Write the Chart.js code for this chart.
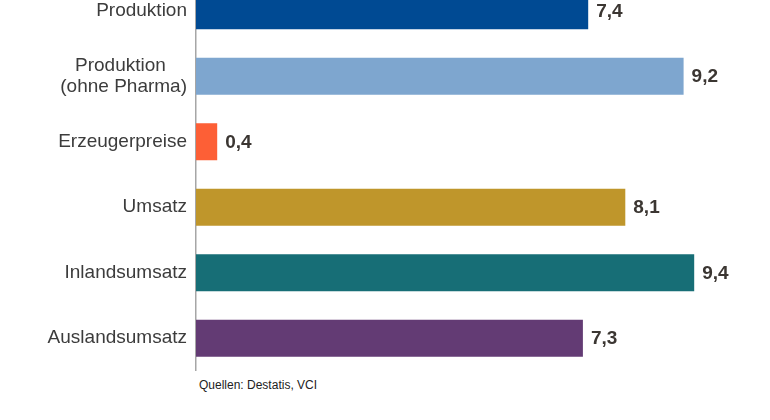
<!DOCTYPE html>
<html>
<head>
<meta charset="utf-8">
<script src="https://cdn.jsdelivr.net/npm/chart.js@4"></script>
<style>
  body { margin: 0; background: #fff; }
  #wrap { position: relative; width: 770px; height: 420px; overflow: hidden; }
  #holder { position: absolute; left: 0; top: -22px; width: 770px; height: 393px; }
  #source { position: absolute; left: 199px; top: 378px; font: 12px "Liberation Sans", Arial, sans-serif; line-height: 14px; color: #222; }
</style>
</head>
<body>
<div id="wrap">
  <div id="holder"><canvas id="chart" width="770" height="393"></canvas></div>
  <div id="source">Quellen: Destatis, VCI</div>
</div>
<script>
// categories (multi-line label as array)
const categories = [
  "Produktion",
  ["Produktion    ", "(ohne Pharma)"],
  "Erzeugerpreise",
  "Umsatz",
  "Inlandsumsatz",
  "Auslandsumsatz"
];
const values = [7.4, 9.2, 0.4, 8.1, 9.4, 7.3];
const barColors = ["#004a93", "#7ea6cf", "#fd5f36", "#bf962b", "#176e76", "#633b74"];

const fontFamily = '"Liberation Sans", Arial, sans-serif';

// draws the numbers next to each bar
const valueLabels = {
  id: "valueLabels",
  afterDatasetsDraw(chart) {
    const ctx = chart.ctx;
    const meta = chart.getDatasetMeta(0);
    ctx.save();
    ctx.font = "bold 19px " + fontFamily;
    ctx.fillStyle = "#3b3632";
    ctx.textAlign = "left";
    ctx.textBaseline = "middle";
    meta.data.forEach((bar, i) => {
      const txt = values[i].toFixed(1).replace(".", ",");
      ctx.fillText(txt, bar.x + 8, bar.y + 1);
    });
    ctx.restore();
  }
};

new Chart(document.getElementById("chart"), {
  type: "bar",
  data: {
    labels: categories,
    datasets: [{
      data: values,
      backgroundColor: barColors,
      borderWidth: 0,
      categoryPercentage: 1,
      barPercentage: 0.565
    }]
  },
  options: {
    indexAxis: "y",
    responsive: false,
    animation: false,
    devicePixelRatio: 1,
    layout: { padding: { left: 0, right: 44, top: 0, bottom: 0 } },
    scales: {
      x: { display: false, min: 0, max: 10 },
      y: {
        afterFit(scale) {
          scale.width = 196;
          scale.paddingTop = 0;
          scale.paddingBottom = 0;
        },
        grid: { display: false, drawTicks: false },
        border: { display: true, color: "#a6a6a6", width: 1.5 },
        ticks: {
          padding: 9,
          color: "#3c3c3c",
          font: { family: fontFamily, size: 19, lineHeight: 1.15 }
        }
      }
    },
    plugins: {
      legend: { display: false },
      tooltip: { enabled: false }
    }
  },
  plugins: [valueLabels]
});
</script>
</body>
</html>
